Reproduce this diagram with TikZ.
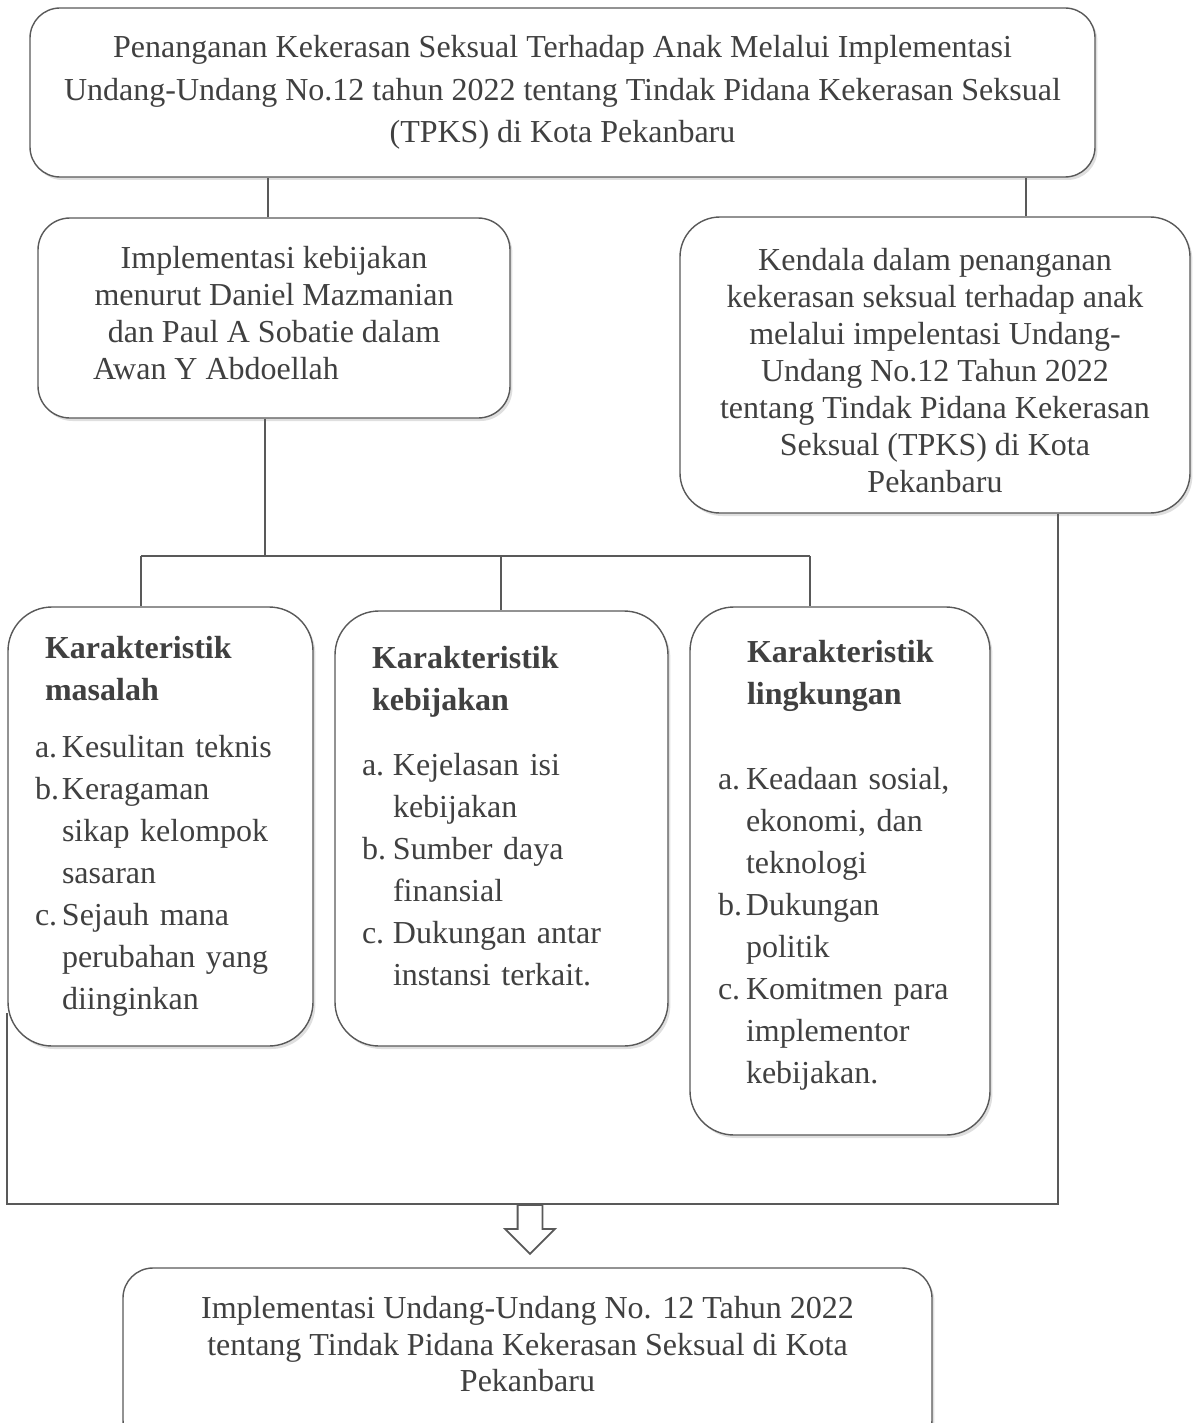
\documentclass[tikz,border=0pt]{standalone}
\usepackage{fontspec}
\setmainfont{Liberation Serif}
\usetikzlibrary{positioning,shadows,shapes.arrows}

\definecolor{inkgray}{HTML}{404040}
\definecolor{linegray}{HTML}{595959}

\tikzset{
  box/.style={draw=linegray, line width=0.7pt, fill=white, text=inkgray,
    drop shadow={shadow xshift=1.2pt, shadow yshift=-1.5pt, opacity=0.25}},
  link/.style={draw=linegray, line width=1pt},
  bodyfont/.style={font=\fontsize{16}{18.5}\selectfont},
  listfont/.style={font=\fontsize{16}{21}\selectfont},
  hollow/.style={single arrow, draw=linegray, fill=white, line width=0.9pt,
    shape border rotate=270, minimum height=24.5pt, inner sep=5.75pt,
    single arrow head extend=6.25pt},
}
\newcommand{\itm}[2]{\makebox[#1][l]{#2}}
\newcommand{\lowstrut}[1]{\rule[-#1]{0pt}{1pt}}

\begin{document}
\begin{tikzpicture}[x=0.5pt, y=-0.5pt]
    \useasboundingbox (0,0) rectangle (1198,1423);

    % Kotak atas
    \node[box, font=\fontsize{16}{21.25}\selectfont, rounded corners=15pt,
          minimum width=532.5pt, minimum height=84.5pt, align=center] (top) at (562.5,92.5)
        {Penanganan Kekerasan Seksual Terhadap Anak Melalui Implementasi\\
         Undang-Undang No.12 tahun 2022 tentang Tindak Pidana Kekerasan Seksual\\
         (TPKS) di Kota Pekanbaru};

    % Implementasi & Kendala
    \node[box, bodyfont, rounded corners=16pt, minimum width=236pt, minimum height=100pt,
          align=center] (impl) at (274,318)
        {Implementasi kebijakan\\
         menurut Daniel Mazmanian\\
         dan Paul A Sobatie dalam\\
         \makebox[181pt][l]{Awan Y Abdoellah}\lowstrut{5pt}};
    \node[box, bodyfont, rounded corners=20pt, minimum width=255pt, minimum height=148pt,
          align=center] (kendala) at (935,365)
        {\rule{0pt}{17pt}Kendala dalam penanganan\\
         kekerasan seksual terhadap anak\\
         melalui impelentasi Undang-\\
         Undang No.12 Tahun 2022\\
         tentang Tindak Pidana Kekerasan\\
         Seksual (TPKS) di Kota\\
         Pekanbaru};

    % Tiga karakteristik
    \node[box, listfont, rounded corners=22pt, minimum width=152.5pt, minimum height=219.5pt,
          inner xsep=13.5pt, text width=125.5pt, align=left] (masalah) at (160.5,826.5)
        {\hspace*{5pt}\textbf{Karakteristik}\\
         \hspace*{5pt}\textbf{masalah}\\[7.5pt]
         \itm{13.5pt}{a.}Kesulitan teknis\\
         \itm{13.5pt}{b.}Keragaman\\
         \hspace*{13.5pt}sikap kelompok\\
         \hspace*{13.5pt}sasaran\\
         \itm{13.5pt}{c.}Sejauh mana\\
         \hspace*{13.5pt}perubahan yang\\
         \hspace*{13.5pt}diinginkan};
    \node[box, listfont, rounded corners=22pt, minimum width=166.5pt, minimum height=217.5pt,
          inner xsep=13.5pt, text width=139.5pt, align=left] (kebijakan) at (501.5,828.5)
        {\hspace*{5pt}\textbf{Karakteristik}\\
         \hspace*{5pt}\textbf{kebijakan}\\[11.5pt]
         \itm{15.5pt}{a.}Kejelasan isi\\
         \hspace*{15.5pt}kebijakan\\
         \itm{15.5pt}{b.}Sumber daya\\
         \hspace*{15.5pt}finansial\\
         \itm{15.5pt}{c.}Dukungan antar\\
         \hspace*{15.5pt}instansi terkait.\lowstrut{13pt}};
    \node[box, listfont, rounded corners=22pt, minimum width=150pt, minimum height=264pt,
          inner xsep=14pt, text width=122pt, align=left] (lingkungan) at (840,871)
        {\hspace*{14.5pt}\textbf{Karakteristik}\\
         \hspace*{14.5pt}\textbf{lingkungan}\\[21.5pt]
         \itm{14pt}{a.}Keadaan sosial,\\
         \hspace*{14pt}ekonomi, dan\\
         \hspace*{14pt}teknologi\\
         \itm{14pt}{b.}Dukungan\\
         \hspace*{14pt}politik\\
         \itm{14pt}{c.}Komitmen para\\
         \hspace*{14pt}implementor\\
         \hspace*{14pt}kebijakan.\lowstrut{9pt}};

    % Kotak hasil (terpotong di bawah)
    \node[box, font=\fontsize{16}{18.25}\selectfont, rounded corners=15pt,
          minimum width=404.5pt, minimum height=91pt, align=center] (hasil) at (527.5,1359)
        {Implementasi Undang-Undang No. 12 Tahun 2022\\
         tentang Tindak Pidana Kekerasan Seksual di Kota\\
         Pekanbaru\lowstrut{15pt}};

    % Garis penghubung
    \coordinate (busL) at (141,556);
    \coordinate (busM) at (501,556);
    \coordinate (busR) at (810,556);
    \coordinate (baseL) at (7,1204);
    \coordinate (sideL) at (7,1013);
    \coordinate (drop) at (530,1204);
    \path (impl.north) ++(-6,0) coordinate (implTop);
    \path (impl.south) ++(-9,0) coordinate (implBot);
    \path (kendala.north) ++(91,0) coordinate (kendalaTop);
    \path (kendala.south) ++(123,0) coordinate (kendalaBot);

    \draw[link] (implTop) -- (implTop |- top.south);
    \draw[link] (kendalaTop) -- (kendalaTop |- top.south);
    \draw[link] (implBot) -- (implBot |- busM);
    \draw[link] (busL) -- (busR);
    \draw[link] (busL) -- (busL |- masalah.north);
    \draw[link] (busM) -- (busM |- kebijakan.north);
    \draw[link] (busR) -- (busR |- lingkungan.north);
    \draw[link] (kendalaBot) |- (baseL) -- (sideL);

    % Panah ke hasil
    \node[hollow, anchor=tail] (down) at (drop) {};
\end{tikzpicture}
\end{document}
